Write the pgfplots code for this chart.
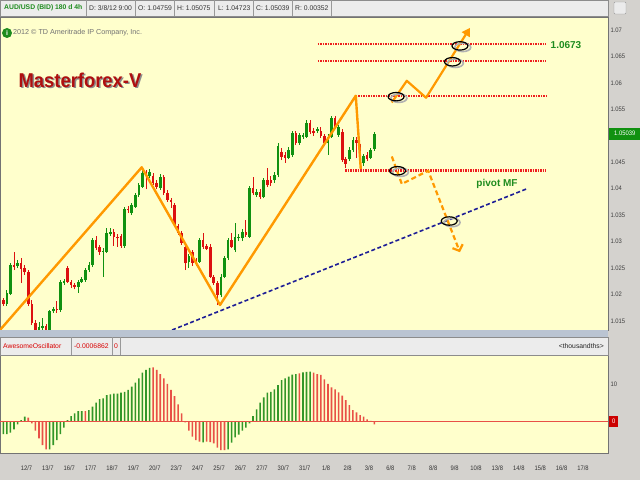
\documentclass[border=0pt]{standalone}
\usepackage{fontspec}
\setmainfont{Liberation Sans}
\newfontfamily\nar[FakeStretch=0.9]{Liberation Sans}
\usepackage{pgfplots}
\pgfplotsset{compat=1.18}
\usepackage{pgfplotstable}
\usetikzlibrary{arrows.meta}
\definecolor{bggrey}{RGB}{212,210,206}
\definecolor{hdrgrey}{RGB}{236,236,236}
\definecolor{panel}{RGB}{255,255,204}
\definecolor{cgreen}{RGB}{16,145,16}
\definecolor{cred}{RGB}{220,16,16}
\definecolor{ogreen}{RGB}{50,150,40}
\definecolor{ored}{RGB}{232,80,70}
\definecolor{lorange}{RGB}{255,153,0}
\definecolor{dotred}{RGB}{238,30,30}
\definecolor{navyd}{RGB}{30,30,150}
\definecolor{titlered}{RGB}{175,15,15}
\definecolor{txtgreen}{RGB}{30,140,30}
\definecolor{splitc}{RGB}{186,196,210}
\newcommand\hf{\fontsize{6.8}{8}\selectfont}
\newcommand\tf{\nar\fontsize{6.5}{7.5}\selectfont}

\pgfplotstableread{
n o h l c
1 1.0182 1.0209 1.0178 1.0202
2 1.0201 1.0260 1.0199 1.0256
4 1.0254 1.0265 1.0250 1.0260
10 1.0129 1.0148 1.0122 1.0139
11 1.0137 1.0156 1.0129 1.0141
13 1.0131 1.0171 1.0127 1.0168
14 1.0168 1.0177 1.0165 1.0173
16 1.0171 1.0227 1.0167 1.0224
17 1.0222 1.0229 1.0218 1.0226
21 1.0215 1.0227 1.0203 1.0224
22 1.0224 1.0233 1.0222 1.0229
23 1.0227 1.0250 1.0224 1.0246
24 1.0246 1.0261 1.0243 1.0256
25 1.0256 1.0307 1.0252 1.0303
28 1.0280 1.0288 1.0234 1.0283
29 1.0281 1.0326 1.0279 1.0316
30 1.0314 1.0326 1.0311 1.0319
34 1.0292 1.0366 1.0288 1.0362
36 1.0354 1.0373 1.0350 1.0369
37 1.0366 1.0392 1.0364 1.0388
38 1.0388 1.0411 1.0384 1.0407
39 1.0404 1.0441 1.0401 1.0429
41 1.0424 1.0437 1.0420 1.0432
44 1.0401 1.0428 1.0398 1.0423
52 1.0262 1.0277 1.0250 1.0272
55 1.0262 1.0307 1.0260 1.0303
61 1.0199 1.0239 1.0195 1.0234
62 1.0234 1.0273 1.0231 1.0269
63 1.0269 1.0307 1.0265 1.0303
65 1.0284 1.0335 1.0280 1.0309
66 1.0306 1.0314 1.0301 1.0309
67 1.0306 1.0324 1.0301 1.0319
69 1.0309 1.0405 1.0307 1.0401
71 1.0388 1.0399 1.0384 1.0394
73 1.0385 1.0420 1.0382 1.0416
76 1.0416 1.0431 1.0411 1.0426
77 1.0426 1.0486 1.0422 1.0481
80 1.0459 1.0479 1.0456 1.0473
81 1.0464 1.0509 1.0460 1.0505
83 1.0486 1.0505 1.0483 1.0502
84 1.0498 1.0505 1.0494 1.0502
85 1.0498 1.0530 1.0496 1.0525
88 1.0510 1.0517 1.0505 1.0512
91 1.0486 1.0503 1.0464 1.0498
92 1.0498 1.0537 1.0496 1.0533
94 1.0502 1.0520 1.0498 1.0516
97 1.0456 1.0479 1.0452 1.0473
98 1.0473 1.0498 1.0469 1.0493
101 1.0448 1.0466 1.0443 1.0461
103 1.0459 1.0477 1.0456 1.0473
104 1.0476 1.0508 1.0472 1.0504
}\upc

\pgfplotstableread{
n o h l c
0 1.0190 1.0194 1.0178 1.0182
3 1.0256 1.0280 1.0246 1.0252
5 1.0260 1.0269 1.0222 1.0248
6 1.0250 1.0256 1.0237 1.0243
7 1.0243 1.0246 1.0178 1.0183
8 1.0183 1.0190 1.0142 1.0146
9 1.0146 1.0152 1.0124 1.0133
12 1.0141 1.0144 1.0125 1.0131
15 1.0172 1.0187 1.0165 1.0170
18 1.0250 1.0254 1.0222 1.0224
19 1.0224 1.0227 1.0212 1.0218
20 1.0218 1.0222 1.0210 1.0215
26 1.0303 1.0311 1.0284 1.0288
27 1.0290 1.0294 1.0275 1.0281
31 1.0319 1.0324 1.0292 1.0309
32 1.0309 1.0314 1.0290 1.0306
33 1.0311 1.0314 1.0288 1.0292
35 1.0362 1.0367 1.0354 1.0359
40 1.0429 1.0435 1.0399 1.0426
42 1.0424 1.0430 1.0407 1.0411
43 1.0411 1.0416 1.0399 1.0404
45 1.0423 1.0426 1.0388 1.0391
46 1.0391 1.0398 1.0375 1.0379
47 1.0379 1.0382 1.0364 1.0375
48 1.0369 1.0373 1.0328 1.0332
49 1.0330 1.0334 1.0313 1.0317
50 1.0317 1.0320 1.0294 1.0297
51 1.0290 1.0296 1.0246 1.0259
53 1.0280 1.0284 1.0254 1.0260
54 1.0265 1.0269 1.0254 1.0258
56 1.0303 1.0316 1.0286 1.0290
57 1.0292 1.0296 1.0284 1.0287
58 1.0290 1.0296 1.0231 1.0234
59 1.0234 1.0237 1.0218 1.0221
60 1.0221 1.0226 1.0180 1.0199
64 1.0303 1.0316 1.0288 1.0290
68 1.0319 1.0341 1.0309 1.0313
70 1.0401 1.0422 1.0388 1.0391
72 1.0394 1.0399 1.0381 1.0385
74 1.0416 1.0439 1.0403 1.0407
75 1.0416 1.0424 1.0405 1.0410
78 1.0470 1.0477 1.0454 1.0460
79 1.0464 1.0469 1.0449 1.0458
82 1.0505 1.0509 1.0483 1.0486
86 1.0525 1.0530 1.0503 1.0508
87 1.0510 1.0515 1.0500 1.0505
89 1.0510 1.0517 1.0496 1.0500
90 1.0500 1.0503 1.0481 1.0486
93 1.0533 1.0537 1.0513 1.0517
95 1.0508 1.0513 1.0451 1.0454
96 1.0456 1.0460 1.0439 1.0447
99 1.0493 1.0498 1.0458 1.0486
100 1.0479 1.0485 1.0443 1.0448
102 1.0464 1.0469 1.0452 1.0457
}\dnc

\begin{document}
\begin{tikzpicture}
\fill[bggrey] (0pt,0pt) rectangle (640pt,480pt);

\begin{axis}[
  at={(0pt,463pt)}, anchor=north west, scale only axis,
  width=608pt, height=313pt,
  xmin=-0.925, xmax=169.5, ymin=1.0133, ymax=1.07246,
  clip mode=individual,
  axis background/.style={fill=panel},
  axis line style={draw=black!55, line width=0.6pt},
  xtick=\empty,
  ytick={1.015,1.02,1.025,1.03,1.035,1.04,1.045,1.055,1.06,1.065,1.07},
  yticklabel pos=right,
  tick style={draw=none},
  yticklabel style={font=\tf, text=black!75, anchor=west, xshift=-1pt,
    /pgf/number format/fixed, /pgf/number format/precision=3,
    /pgf/number format/assume math mode=true},
]
% wicks
\addplot[draw=none, mark=none, forget plot, error bars/.cd, y dir=plus, y explicit, error mark=none,
  error bar style={color=cgreen, solid, line width=0.8pt}]
  table[x=n, y=l, y error plus expr=\thisrow{h}-\thisrow{l}] {\upc};
\addplot[draw=none, mark=none, forget plot, error bars/.cd, y dir=plus, y explicit, error mark=none,
  error bar style={color=cred, solid, line width=0.8pt}]
  table[x=n, y=l, y error plus expr=\thisrow{h}-\thisrow{l}] {\dnc};
% bodies
\addplot[draw=none, mark=none, forget plot, error bars/.cd, y dir=plus, y explicit, error mark=none,
  error bar style={color=cgreen, solid, line width=2.6pt}]
  table[x=n, y=o, y error plus expr=\thisrow{c}-\thisrow{o}] {\upc};
\addplot[draw=none, mark=none, forget plot, error bars/.cd, y dir=plus, y explicit, error mark=none,
  error bar style={color=cred, solid, line width=2.6pt}]
  table[x=n, y=c, y error plus expr=\thisrow{o}-\thisrow{c}] {\dnc};
% dotted levels
\addplot[dotred, line width=1.8pt, dash pattern=on 1.5pt off 1pt] coordinates {(88.2,1.0673)(152.1,1.0673)};
\addplot[dotred, line width=1.8pt, dash pattern=on 1.5pt off 1pt] coordinates {(88.2,1.0641)(152.1,1.0641)};
\addplot[dotred, line width=1.8pt, dash pattern=on 1.5pt off 1pt] coordinates {(98.8,1.0576)(152.1,1.0576)};
\addplot[dotred, line width=3.2pt, dash pattern=on 1.5pt off 1pt] coordinates {(95.8,1.0434)(152.1,1.0434)};
% trend line
\addplot[navyd, line width=1.6pt, dash pattern=on 4pt off 2.5pt] coordinates {(47.3,1.0133)(146.8,1.0400)};
% zigzag
\addplot[lorange, line width=2.4pt, line join=round] coordinates {(-0.925,1.0133)(38.8,1.04405)(60.75,1.01803)(98.8,1.05758)(100.2,1.04373)};
% projections
\addplot[lorange, line width=2.2pt, line join=round, -{Triangle[length=8pt,width=9pt]}] coordinates {(108.9,1.0563)(113.1,1.0604)(118.5,1.0572)(130.8,1.0704)};
\addplot[lorange, line width=2.2pt, line join=round, dash pattern=on 5pt off 3pt, -{Straight Barb[length=5pt,width=11pt]}] coordinates {(108.9,1.0461)(111.7,1.0409)(119.1,1.0434)(128.0,1.0280)};
% ellipses
\addplot[only marks, mark=o, mark size=4.2pt, mark options={xscale=1.9, draw=black!30, line width=1.6pt, xshift=1.5pt, yshift=-1.5pt}] coordinates {(128.0,1.0670)(125.9,1.0640)(110.1,1.0574)(110.5,1.0434)(125.0,1.0339)};
\addplot[only marks, mark=o, mark size=4.2pt, mark options={xscale=1.9, draw=black, line width=1.2pt}] coordinates {(128.0,1.0670)(125.9,1.0640)(110.1,1.0574)(110.5,1.0434)(125.0,1.0339)};
\end{axis}

\begin{axis}[
  at={(0pt,125pt)}, anchor=north west, scale only axis,
  width=608pt, height=98pt,
  xmin=-0.925, xmax=169.5, ymin=-8.3, ymax=17.69,
  axis background/.style={fill=panel},
  axis line style={draw=black!55, line width=0.6pt},
  xtick={6.5,12.5,...,162.5},
  xticklabels={12/7,13/7,16/7,17/7,18/7,19/7,20/7,23/7,24/7,25/7,26/7,27/7,30/7,31/7,1/8,2/8,3/8,6/8,7/8,8/8,9/8,10/8,13/8,14/8,15/8,16/8,17/8},
  ytick={10}, yticklabel pos=right,
  tick style={draw=none},
  xticklabel style={font=\tf, text=black!80, yshift=-9pt},
  yticklabel style={font=\tf, text=black!75, anchor=west, xshift=-1pt,
    /pgf/number format/assume math mode=true},
]
\addplot[ybar, bar width=1.6pt, bar shift=0pt, fill=ogreen, draw=none] coordinates {
(0,-3.27)(1,-3.27)(2,-2.92)(3,-2.04)(4,-0.71)(5,0.44)(6,1.33)(13,-7.35)(14,-6.19)(15,-4.87)(16,-3.27)(17,-1.59)(18,0.44)(19,1.50)(20,2.21)(21,2.83)(22,2.83)(24,3.10)(25,3.98)(26,5.04)(27,6.02)(28,6.19)(29,7.08)(30,7.26)(31,7.43)(32,7.43)(33,7.70)(34,7.88)(35,8.41)(36,9.29)(37,10.35)(38,11.50)(39,13.01)(40,13.72)(41,14.25)(56,-5.49)(63,-7.35)(64,-5.58)(65,-4.16)(66,-3.45)(67,-2.39)(68,-1.59)(69,-0.44)(70,1.50)(71,3.27)(72,5.04)(73,6.46)(74,7.70)(75,7.88)(76,8.58)(77,9.73)(78,11.06)(79,11.50)(80,11.95)(81,12.48)(82,12.65)(84,13.10)(85,13.19)(86,13.27)};
\addplot[ybar, bar width=1.6pt, bar shift=0pt, fill=ored, draw=none] coordinates {
(7,1.06)(8,-0.44)(9,-2.39)(10,-4.42)(11,-6.19)(12,-7.35)(23,2.83)(42,14.42)(43,13.72)(44,12.65)(45,11.50)(46,10.00)(47,8.41)(48,6.81)(49,4.60)(50,2.21)(51,-0.18)(52,-2.39)(53,-3.98)(54,-4.87)(55,-5.31)(57,-5.31)(58,-5.40)(59,-5.75)(60,-6.90)(61,-7.52)(62,-7.52)(83,12.83)(87,13.01)(88,12.65)(89,12.39)(90,11.24)(91,10.00)(92,9.12)(93,8.58)(94,7.79)(95,6.90)(96,5.75)(97,4.42)(98,3.10)(99,2.48)(100,1.77)(101,1.33)(102,0.62)(103,0.2)(104,-0.69)};
\addplot[ored, line width=1.4pt] coordinates {(-0.925,0)(169.5,0)};
\end{axis}

\begin{scope}[x=1pt,y=1pt]
% top header
\fill[hdrgrey] (0,464) rectangle (608,480);
\draw[black!45, line width=0.5pt] (0,464) rectangle (608,480);
\foreach \sx in {86,135,174.5,214,253,292,331} {\draw[black!40, line width=0.5pt] (\sx,464) -- (\sx,480);}
\node[anchor=west, inner sep=0pt, text=txtgreen, font=\bfseries\hf] at (4,472) {AUD/USD (BID) 180 d 4h};
\node[anchor=west, inner sep=0pt, text=black!80, font=\hf] at (89,472) {D: 3/8/12 9:00};
\node[anchor=west, inner sep=0pt, text=black!80, font=\hf] at (138,472) {O: 1.04759};
\node[anchor=west, inner sep=0pt, text=black!80, font=\hf] at (177,472) {H: 1.05075};
\node[anchor=west, inner sep=0pt, text=black!80, font=\hf] at (218,472) {L: 1.04723};
\node[anchor=west, inner sep=0pt, text=black!80, font=\hf] at (256,472) {C: 1.05039};
\node[anchor=west, inner sep=0pt, text=black!80, font=\hf] at (295,472) {R: 0.00352};
\draw[black!40, fill=black!8, rounded corners=1pt] (614,466) rectangle (626,478);
% splitter and oscillator header
\fill[splitc] (0,143) rectangle (608,150);
\fill[hdrgrey] (0,125) rectangle (608,143);
\draw[black!45, line width=0.5pt] (0,125) rectangle (608,143);
\foreach \sx in {71,112,120} {\draw[black!40, line width=0.5pt] (\sx,125) -- (\sx,143);}
\node[anchor=west, inner sep=0pt, text=red!85!black, font=\hf] at (3,134) {AwesomeOscillator};
\node[anchor=west, inner sep=0pt, text=red!85!black, font=\hf] at (74,134) {-0.0006862};
\node[anchor=west, inner sep=0pt, text=red!85!black, font=\hf] at (114,134) {0};
\node[anchor=east, inner sep=0pt, text=black!85, font=\hf] at (604,134) {<thousandths>};

% annotations
\node[text=black!45, font=\bfseries\fontsize{20}{22}\selectfont\addfontfeatures{FakeStretch=0.92}] at (81.5,398.5) {Masterforex-V};
\node[text=titlered, font=\bfseries\fontsize{20}{22}\selectfont\addfontfeatures{FakeStretch=0.92}] at (80,400) {Masterforex-V};
\fill[txtgreen] (7,447) circle (5);
\node[text=white, font=\bfseries\fontsize{7}{7}\selectfont] at (7,447) {i};
\node[anchor=west, inner sep=0pt, text=black!55, font=\fontsize{7.2}{8}\selectfont] at (13,447) {2012 © TD Ameritrade IP Company, Inc.};
\node[text=txtgreen, font=\bfseries\fontsize{10}{12}\selectfont] at (566,435) {1.0673};
\node[text=txtgreen, font=\bfseries\fontsize{10}{12}\selectfont] at (497,296) {pivot MF};
\node[fill=cgreen, text=white, minimum width=31pt, minimum height=12pt, inner sep=0pt, anchor=west, font=\tf] at (609,346.3) {1.05039};
\node[fill=red!80!black, text=white, minimum width=9pt, minimum height=11pt, inner sep=0pt, anchor=west, font=\tf] at (609,58.3) {0};
\pgfresetboundingbox
\useasboundingbox (0,0) rectangle (640,480);
\end{scope}
\end{tikzpicture}
\end{document}
